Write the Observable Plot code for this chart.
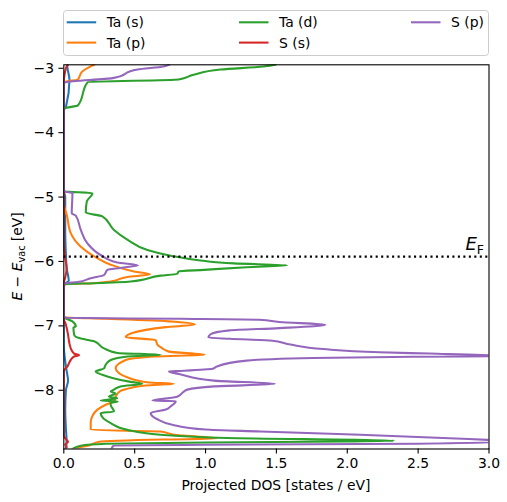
<!DOCTYPE html>
<html>
<head>
<meta charset="utf-8">
<script src="https://cdn.jsdelivr.net/npm/d3@7"></script>
<script src="https://cdn.jsdelivr.net/npm/@observablehq/plot@0.6"></script>
<style>
  body { margin: 0; background: white; font-family: "DejaVu Sans", sans-serif; }
  #wrap { position: relative; width: 507px; height: 502px; overflow: hidden; }
  #legend { position: absolute; left: 0; top: 0; }
  #chart { position: absolute; left: 0; top: 60px; }
</style>
</head>
<body>
<div id="wrap"><div id="legend"></div><div id="chart"></div></div>
<script>
// ---- data: [DOS (states/eV), E - Evac (eV)] ----
const seriesNames = ["Ta (s)", "Ta (p)", "Ta (d)", "S (s)", "S (p)"];
const seriesColors = ["#1f77b4", "#ff7f0e", "#2ca02c", "#d62728", "#9467bd"];
const xTicks = [0, 0.5, 1, 1.5, 2, 2.5, 3];
const yTicks = [-8, -7, -6, -5, -4, -3];
const fermiLevel = -5.925;

const taS = [[0.03,-2.94],[0.025,-2.97],[0.04,-3.18],[0.015,-3.6],[0,-3.65],[0,-4.9],[0.01,-5.0],[0.01,-5.5],[0.015,-5.9],[0.02,-6.1],[0.035,-6.3],[0,-6.36],[0,-7.3],[0.01,-7.55],[0.02,-7.7],[0.03,-7.85],[0.015,-8.0],[0.01,-8.3],[0.015,-8.6],[0.02,-8.8],[0.01,-8.95]];

const taP = [[0.22,-2.94],[0.19,-2.97],[0.13,-3.05],[0.096,-3.18],[0.026,-3.2],[0,-3.22],[0,-5.1],[0.01,-5.2],[0.02,-5.27],[0.049,-5.56],[0.12,-5.77],[0.214,-5.92],[0.331,-6.05],[0.495,-6.155],[0.608,-6.2],[0.448,-6.24],[0.331,-6.31],[0.21,-6.337],[0.026,-6.35],[0,-6.37],[0,-6.86],[0.02,-6.87],[0.3,-6.89],[0.742,-6.93],[0.925,-6.98],[0.72,-7.02],[0.483,-7.11],[0.437,-7.175],[0.648,-7.22],[0.66,-7.29],[0.69,-7.34],[0.742,-7.4],[0.995,-7.45],[0.648,-7.475],[0.437,-7.53],[0.366,-7.657],[0.46,-7.81],[0.6,-7.88],[0.777,-7.9],[0.577,-7.925],[0.48,-7.96],[0.4,-8.01],[0.366,-8.1],[0.354,-8.17],[0.3,-8.22],[0.237,-8.3],[0.202,-8.4],[0.19,-8.5],[0.19,-8.615],[0.683,-8.64],[0.777,-8.69],[1.08,-8.75],[0.7,-8.765],[0.25,-8.8],[0.17,-8.86],[0.12,-8.88],[0.08,-8.93]];

const taD = [[1.5,-2.94],[1.408,-2.972],[1.106,-3.02],[0.916,-3.1],[0.81,-3.174],[0.169,-3.216],[0.099,-3.578],[0.007,-3.62],[0,-3.66],[0,-4.88],[0.007,-4.913],[0.202,-4.94],[0.162,-5.07],[0.155,-5.24],[0.272,-5.3],[0.354,-5.51],[0.448,-5.66],[0.59,-5.82],[0.754,-5.91],[0.965,-5.985],[1.2,-6.03],[1.575,-6.06],[1.29,-6.09],[0.99,-6.13],[0.81,-6.155],[0.8,-6.19],[0.683,-6.22],[0.472,-6.31],[0.214,-6.337],[0.014,-6.35],[0,-6.37],[0,-6.86],[0.01,-6.88],[0.061,-6.93],[0.085,-7.01],[0.068,-7.025],[0.073,-7.14],[0.108,-7.19],[0.214,-7.24],[0.284,-7.35],[0.378,-7.42],[0.683,-7.45],[0.45,-7.475],[0.331,-7.53],[0.296,-7.6],[0.284,-7.66],[0.225,-7.71],[0.272,-7.76],[0.343,-7.81],[0.472,-7.87],[0.554,-7.9],[0.4,-7.94],[0.354,-7.99],[0.331,-8.02],[0.366,-8.05],[0.319,-8.1],[0.378,-8.125],[0.26,-8.16],[0.38,-8.175],[0.33,-8.2],[0.331,-8.23],[0.354,-8.33],[0.26,-8.355],[0.331,-8.51],[0.448,-8.615],[0.683,-8.69],[1.15,-8.74],[2.33,-8.785],[2.0,-8.795],[1.0,-8.81],[0.3,-8.83],[0.12,-8.86],[0.07,-8.9],[0.05,-8.95]];

const sS = [[0.03,-2.94],[0.02,-2.97],[0.005,-3.1],[0,-3.2],[0,-5.7],[0.01,-5.95],[0.02,-6.1],[0.01,-6.25],[0,-6.33],[0,-6.9],[0.01,-6.95],[0.026,-7.09],[0.049,-7.35],[0.073,-7.43],[0.108,-7.455],[0.073,-7.475],[0.049,-7.53],[0.026,-7.63],[0,-7.7],[0,-8.7],[0.015,-8.76],[0.03,-8.8],[0.01,-8.84],[0.02,-8.88],[0.01,-8.95]];

const sP = [[0.75,-2.94],[0.704,-2.972],[0.52,-3.02],[0.345,-3.153],[0.014,-3.216],[0,-3.23],[0,-4.88],[0.007,-4.913],[0.061,-4.94],[0.056,-5.25],[0.085,-5.29],[0.12,-5.51],[0.167,-5.72],[0.26,-5.9],[0.378,-6.016],[0.523,-6.06],[0.401,-6.1],[0.308,-6.13],[0.284,-6.21],[0.19,-6.26],[0.096,-6.32],[0.014,-6.337],[0,-6.36],[0,-6.86],[0.02,-6.875],[0.82,-6.89],[1.38,-6.905],[1.52,-6.94],[1.845,-6.983],[1.52,-7.035],[1.17,-7.07],[1.035,-7.13],[1.02,-7.18],[1.17,-7.2],[1.458,-7.227],[1.6,-7.29],[1.83,-7.36],[2.23,-7.41],[2.58,-7.43],[3.0,-7.455],[3.3,-7.465],[2.46,-7.48],[1.76,-7.5],[1.29,-7.54],[1.08,-7.63],[1.05,-7.667],[0.82,-7.7],[0.742,-7.708],[0.82,-7.75],[1.06,-7.85],[1.49,-7.9],[1.06,-7.94],[0.871,-7.99],[0.847,-8.02],[0.8,-8.1],[0.625,-8.16],[0.79,-8.17],[0.754,-8.25],[0.72,-8.3],[0.613,-8.355],[0.66,-8.45],[0.765,-8.535],[1.0,-8.61],[1.387,-8.64],[2.09,-8.69],[2.99,-8.77],[3.2,-8.79],[2.5,-8.83],[1.0,-8.845],[0.35,-8.86],[0.33,-8.95]];

const seriesData = [taS, taP, taD, sS, sP];

// ---- chart ----
const lw = 2.08;
const lineMarks = seriesData.map((s, i) =>
  Plot.line(s.map(([dos, E]) => ({dos, E})), {
    x: "dos", y: "E", stroke: seriesColors[i], strokeWidth: lw, clip: true,
    curve: "monotone-y", strokeLinejoin: "round", strokeLinecap: "butt"
  })
);

const chart = Plot.plot({
  width: 507,
  height: 442,
  marginTop: 4.3,
  marginBottom: 53.5,
  marginLeft: 63.3,
  marginRight: 18.5,
  style: { fontFamily: "DejaVu Sans", fontSize: "13.9px", background: "white", color: "black" },
  x: { domain: [0, 3] },
  y: { domain: [-8.912, -2.946] },
  marks: [
    ...lineMarks,
    Plot.ruleY([fermiLevel], { stroke: "black", strokeWidth: 2.08, strokeDasharray: "2.08,3.4" }),
    Plot.frame({ stroke: "black", strokeWidth: 1.1 }),
    Plot.axisX({ ticks: xTicks, tickSize: 4.9, tickPadding: 4.6, strokeWidth: 1.1,
      tickFormat: d => d.toFixed(1), label: null }),
    Plot.axisY({ ticks: yTicks, tickSize: 4.9, tickPadding: 4.9, strokeWidth: 1.1,
      tickFormat: d => (d < 0 ? "\u2212" : "") + Math.abs(d), label: null })
  ]
});
document.getElementById("chart").appendChild(chart);

const svg = d3.select(chart);
// x label
svg.append("text")
  .attr("x", (63.3 + 488.5) / 2).attr("y", 430)
  .attr("text-anchor", "middle")
  .attr("font-family", "DejaVu Sans").attr("font-size", "13.9px").attr("fill", "black")
  .text("Projected DOS [states / eV]");
// y label
const yl = svg.append("text")
  .attr("transform", `translate(21.7,${(4.3 + 388.5) / 2}) rotate(-90)`)
  .attr("text-anchor", "middle")
  .attr("font-family", "DejaVu Sans").attr("font-size", "13.9px").attr("fill", "black");
yl.append("tspan").attr("font-style", "italic").text("E");
yl.append("tspan").text(" \u2212 ");
yl.append("tspan").attr("font-style", "italic").text("E");
yl.append("tspan").attr("font-size", "9.7px").attr("dy", "2.8").text("vac");
yl.append("tspan").attr("dy", "-2.8").text(" [eV]");
// E_F label
const ef = svg.append("text")
  .attr("x", 484).attr("y", 190)
  .attr("text-anchor", "end")
  .attr("font-family", "DejaVu Sans").attr("font-size", "18px").attr("fill", "black");
ef.append("tspan").attr("font-style", "italic").text("E");
ef.append("tspan").attr("font-size", "12.6px").attr("dy", "3.6").text("F");

// ---- legend ----
const lg = d3.select("#legend").append("svg").attr("width", 507).attr("height", 60);
lg.append("rect").attr("x", 63.5).attr("y", 10.5).attr("width", 425).attr("height", 45)
  .attr("rx", 3).attr("fill", "white").attr("fill-opacity", 0.8).attr("stroke", "#cccccc").attr("stroke-width", 1);
const colX = [66.7, 239, 411];
const rowY = [22.3, 42.6];
seriesNames.forEach((name, i) => {
  const c = Math.floor(i / 2), r = i % 2;
  const x0 = colX[c], y0 = rowY[r];
  lg.append("line").attr("x1", x0).attr("x2", x0 + 29.5).attr("y1", y0).attr("y2", y0)
    .attr("stroke", seriesColors[i]).attr("stroke-width", lw);
  lg.append("text").attr("x", x0 + 40).attr("y", y0 + 5)
    .attr("font-family", "DejaVu Sans").attr("font-size", "13.9px").attr("fill", "black")
    .text(name);
});
</script>
</body>
</html>
